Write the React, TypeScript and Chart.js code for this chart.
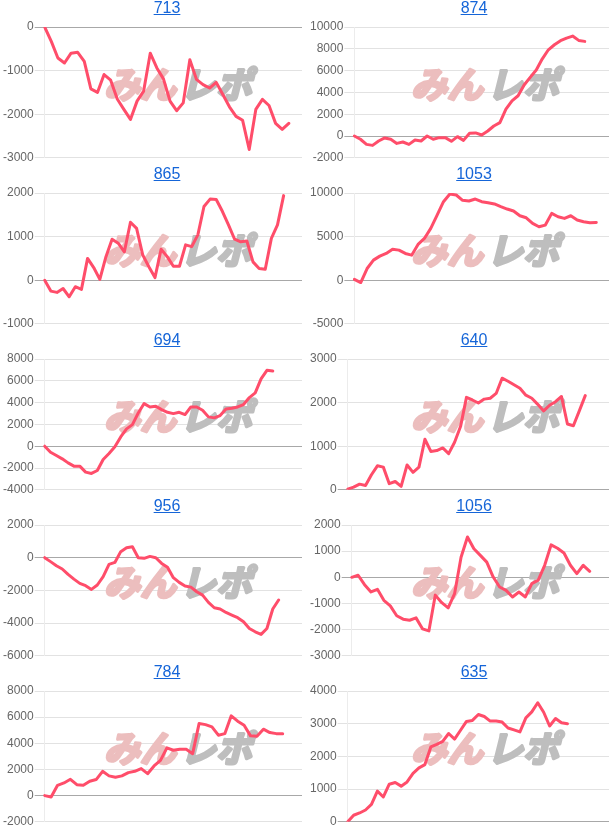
import React, { useEffect, useRef } from 'react';
import { Chart, registerables } from 'chart.js';
Chart.register(...registerables);

const TITLES = ['713', '874', '865', '1053', '694', '640', '956', '1056', '784', '635'];

const s713 = [0, -330, -710, -825, -600, -580, -790, -1420, -1500, -1090, -1220, -1650, -1890, -2120, -1700, -1470, -600, -940, -1190, -1700, -1920, -1740, -750, -1200, -1320, -1400, -1270, -1550, -1830, -2050, -2140, -2810, -1890, -1660, -1800, -2210, -2350, -2210];
const s874 = [0, -300, -770, -860, -460, -180, -300, -680, -550, -770, -370, -460, 0, -300, -150, -150, -490, -60, -400, 250, 280, 90, 460, 920, 1230, 2460, 3230, 3690, 4680, 5380, 6060, 7080, 7910, 8370, 8740, 8980, 9170, 8770, 8680];
const s865 = [0, -250, -280, -190, -380, -150, -210, 500, 290, 20, 540, 940, 850, 650, 1330, 1190, 580, 310, 60, 710, 540, 320, 320, 810, 770, 1040, 1690, 1860, 1850, 1580, 1270, 940, 880, 900, 420, 270, 250, 960, 1270, 1940];
const s1053 = [100, -270, 1340, 2300, 2760, 3070, 3560, 3450, 3070, 2870, 4100, 4790, 5940, 7470, 9000, 9880, 9770, 9160, 9080, 9310, 9000, 8890, 8740, 8430, 8160, 7930, 7390, 7160, 6510, 6130, 6320, 7660, 7280, 7090, 7390, 6900, 6700, 6590, 6630];
const s694 = [0, -550, -850, -1160, -1530, -1830, -1830, -2380, -2500, -2230, -1220, -670, -60, 850, 1590, 1980, 3050, 3910, 3600, 3660, 3360, 3110, 2990, 3110, 2900, 3600, 3600, 3300, 2690, 2600, 2810, 3420, 3480, 3600, 3820, 4460, 4890, 6170, 6960, 6900];
const s640 = [15, 60, 130, 100, 345, 550, 520, 140, 190, 80, 570, 400, 520, 1160, 880, 900, 960, 830, 1090, 1450, 2120, 2060, 1990, 2080, 2100, 2210, 2560, 2490, 2410, 2330, 2170, 2100, 1960, 1810, 1940, 2020, 2140, 1510, 1470, 1810, 2160];
const s956 = [0, -240, -490, -690, -1020, -1310, -1570, -1710, -1940, -1670, -1160, -410, -290, 370, 610, 670, 0, -40, 80, 0, -350, -590, -1220, -1510, -1730, -1800, -2080, -2290, -2730, -3060, -3140, -3350, -3510, -3670, -3920, -4330, -4530, -4690, -4330, -3140, -2590];
const s1056 = [0, 80, -280, -560, -460, -880, -1090, -1470, -1600, -1640, -1550, -1970, -2050, -680, -970, -1170, -620, 770, 1540, 1090, 840, 580, 10, -370, -500, -750, -560, -750, -240, -110, 460, 1240, 1110, 930, 460, 140, 460, 230];
const s784 = [0, -100, 790, 970, 1250, 840, 790, 1100, 1230, 1860, 1510, 1400, 1510, 1760, 1860, 2070, 1680, 2270, 2700, 3650, 3470, 3550, 3550, 3210, 5510, 5430, 5260, 4620, 4740, 6100, 5690, 5380, 4570, 4540, 5080, 4820, 4740, 4740];
const s635 = [0, 200, 270, 360, 530, 940, 760, 1150, 1200, 1090, 1220, 1480, 1650, 1750, 2290, 2370, 2460, 2700, 2530, 2800, 3070, 3100, 3280, 3220, 3080, 3080, 3050, 2870, 2810, 2750, 3180, 3360, 3640, 3350, 2930, 3160, 3030, 3000];

const SERIES = [s713, s874, s865, s1053, s694, s640, s956, s1056, s784, s635];
const X_SLOTS = [40, 43, 43, 41, 45, 45, 45, 41, 41, 45];
const Y_MIN = [-3000, -2000, -1000, -5000, -4000, 0, -6000, -3000, -2000, 0];
const Y_MAX = [0, 10000, 2000, 10000, 8000, 3000, 2000, 2000, 8000, 4000];
const Y_STEP = [1000, 2000, 1000, 5000, 2000, 1000, 2000, 1000, 2000, 1000];

const LINE_COLOR = '#ff4d6a';
const FONT = '"Liberation Sans", Arial, sans-serif';

const watermark = {
  id: 'watermark',
  beforeDatasetsDraw(chart: any) {
    const ctx = chart.ctx;
    ctx.save();
    ctx.font = 'italic bold 36px "Noto Sans CJK JP"';
    ctx.textBaseline = 'middle';
    ctx.lineJoin = 'round';
    ctx.lineWidth = 3;
    const a = 'みん';
    const b = 'レポ';
    ctx.fillStyle = 'rgb(236,190,190)';
    ctx.strokeStyle = 'rgb(236,190,190)';
    ctx.strokeText(a, 104, 84);
    ctx.fillText(a, 104, 84);
    const w = ctx.measureText(a).width;
    ctx.fillStyle = 'rgb(190,190,190)';
    ctx.strokeStyle = 'rgb(190,190,190)';
    ctx.strokeText(b, 104 + w + 4, 84);
    ctx.fillText(b, 104 + w + 4, 84);
    ctx.restore();
  },
};

function Panel({ idx }: { idx: number }) {
  const ref = useRef<HTMLCanvasElement | null>(null);
  useEffect(() => {
    if (!ref.current) return;
    const labels = Array.from({ length: X_SLOTS[idx] }, (_, i) => String(i + 1));
    const chart = new Chart(ref.current, {
      type: 'line',
      data: {
        labels,
        datasets: [
          {
            data: SERIES[idx],
            borderColor: LINE_COLOR,
            borderWidth: 3,
            pointRadius: 0,
            tension: 0,
            borderJoinStyle: 'round',
            borderCapStyle: 'round',
            fill: false,
          },
        ],
      },
      options: {
        animation: false,
        responsive: false,
        maintainAspectRatio: false,
        layout: { padding: { top: 27, bottom: 8, left: 2, right: 5 } },
        plugins: { legend: { display: false }, tooltip: { enabled: false }, title: { display: false } },
        scales: {
          x: { display: false },
          y: {
            min: Y_MIN[idx],
            max: Y_MAX[idx],
            ticks: {
              stepSize: Y_STEP[idx],
              padding: 1,
              color: '#666',
              font: { family: FONT, size: 12 },
              callback: (v: any) => String(v),
            },
            grid: {
              drawTicks: true,
              tickLength: 10,
              color: (c: any) => (c.tick && c.tick.value === 0 ? '#a8a8a8' : '#e2e2e2'),
            },
            border: { display: true, color: '#ececec', width: 1 },
          },
        },
      },
      plugins: [watermark],
    } as any);
    return () => chart.destroy();
  }, [idx]);
  const col = idx % 2;
  const row = Math.floor(idx / 2);
  return (
    <div style={{ position: 'absolute', left: col * 307, top: row * 166, width: 307, height: 166 }}>
      <canvas ref={ref} width={307} height={166} style={{ position: 'absolute', left: 0, top: 0, width: 307, height: 166 }} />
      <div
        style={{
          position: 'absolute',
          left: 0,
          top: -1,
          width: 334,
          textAlign: 'center',
          fontFamily: FONT,
          fontSize: 16,
          lineHeight: '18px',
        }}
      >
        <a href="#" style={{ color: '#1565d8', textDecoration: 'underline' }}>
          {TITLES[idx]}
        </a>
      </div>
    </div>
  );
}

export default function App() {
  return (
    <div style={{ position: 'absolute', left: 0, top: 0, width: 614, height: 830, background: '#fff' }}>
      {TITLES.map((_, i) => (
        <Panel key={i} idx={i} />
      ))}
    </div>
  );
}
